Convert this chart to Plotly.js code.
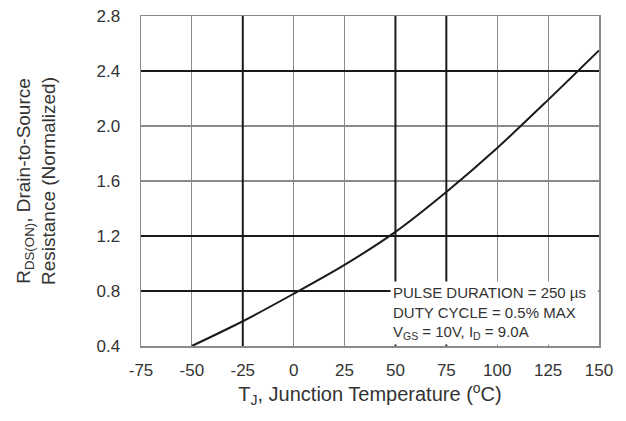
<!DOCTYPE html>
<html>
<head>
<meta charset="utf-8">
<script src="https://cdn.plot.ly/plotly-3.0.1.min.js"></script>
<style>html,body{margin:0;padding:0;background:#fff;}#chart{width:626px;height:421px;}</style>
</head>
<body>
<div id="chart"></div>
<script>
// Junction temperature (°C) and normalized R_DS(ON)
const tempC = [-50, -25, 0, 25, 50, 75, 100, 125, 150];
const rdsNorm = [0.40, 0.58, 0.78, 0.99, 1.23, 1.52, 1.84, 2.19, 2.55];
const xTicks = [-75, -50, -25, 0, 25, 50, 75, 100, 125, 150];
const yTicks = [0.4, 0.8, 1.2, 1.6, 2.0, 2.4, 2.8];
const xHeavyGrid = [-25, 50, 75];
const yHeavyGrid = [0.8, 1.2, 2.4];
const noteLines = [
  "PULSE DURATION = 250 µs",
  "DUTY CYCLE = 0.5% MAX",
  "V<sub>GS</sub> = 10V, I<sub>D</sub> = 9.0A"
];

const xRange = [xTicks[0], xTicks[xTicks.length - 1]];
const yRange = [yTicks[0], yTicks[yTicks.length - 1]];
const font = "Liberation Sans, Arial, sans-serif";
const heavy = {color:'#1a1a1a', width:2};
const shapes = [];
xHeavyGrid.forEach(v => shapes.push({type:'line', xref:'x', yref:'y', x0:v, x1:v, y0:yRange[0], y1:yRange[1], layer:'between', line:heavy}));
yHeavyGrid.forEach(v => shapes.push({type:'line', xref:'x', yref:'y', x0:xRange[0], x1:xRange[1], y0:v, y1:v, layer:'between', line:heavy}));

const trace = {
  x: tempC, y: rdsNorm, type:'scatter', mode:'lines',
  line:{color:'#1a1a1a', width:2, shape:'spline', smoothing:0.8},
  hoverinfo:'skip'
};

const layout = {
  width:626, height:421,
  margin:{l:141, r:27, t:16, b:75},
  paper_bgcolor:'#fff', plot_bgcolor:'#fff',
  showlegend:false,
  font:{family:font, color:'#333'},
  xaxis:{
    range:xRange, tickvals:xTicks, ticktext:xTicks.map(String),
    showgrid:true, gridcolor:'#8a8a8a', gridwidth:1.2,
    showline:true, linecolor:'#8a8a8a', linewidth:1.5, mirror:true,
    zeroline:false, ticks:'outside', ticklen:8, tickcolor:'rgba(0,0,0,0)',
    tickfont:{size:17, color:'#333', family:font},
    title:{text:"T<sub>J</sub>, Junction Temperature (<sup>o</sup>C)", font:{size:20, color:'#333', family:font}, standoff:8}
  },
  yaxis:{
    range:yRange, tickvals:yTicks, ticktext:yTicks.map(v=>v.toFixed(1)),
    showgrid:true, gridcolor:'#8a8a8a', gridwidth:1.2,
    showline:true, linecolor:'#8a8a8a', linewidth:1.5, mirror:true,
    zeroline:false, ticks:'outside', ticklen:16, tickcolor:'rgba(0,0,0,0)',
    tickfont:{size:17, color:'#333', family:font},
    title:{text:"R<sub>DS(ON)</sub>, Drain-to-Source<br>Resistance (Normalized)", font:{size:19, color:'#333', family:font}, standoff:36}
  },
  shapes: shapes,
  annotations:[{
    xref:'paper', yref:'paper', x:0.543, y:0.004, xanchor:'left', yanchor:'bottom',
    align:'left', showarrow:false, bgcolor:'#fff', borderpad:2, width:203,
    text: noteLines.join('<br>'),
    font:{size:15, color:'#333', family:font}
  }]
};

Plotly.newPlot('chart', [trace], layout, {displayModeBar:false, staticPlot:true});
</script>
</body>
</html>
